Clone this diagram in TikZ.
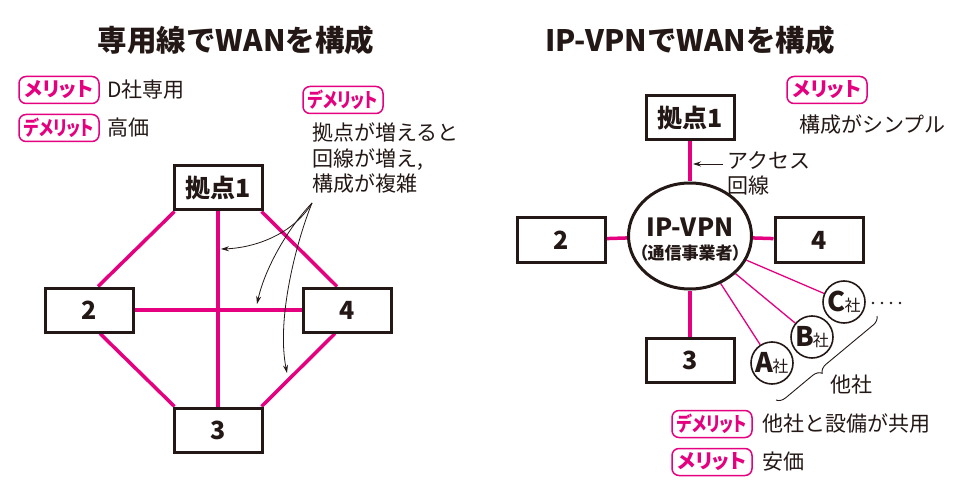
\documentclass[tikz,border=0pt]{standalone}
\usepackage{fontspec}
\setmainfont{Noto Sans CJK JP}
\newfontfamily\jpprop{Noto Sans CJK JP}[RawFeature=+palt]
\usetikzlibrary{shapes.geometric,arrows.meta,backgrounds,calc,decorations.pathreplacing}
\definecolor{mag}{HTML}{E4007F}
\definecolor{ink}{HTML}{231815}
\tikzset{
  box/.style={draw=ink, line width=3pt, fill=white, minimum width=88pt, minimum height=44pt, inner sep=0pt, text=ink, font=\fontsize{25}{27}\selectfont\bfseries},
  badge/.style={draw=mag, line width=1.5pt, rounded corners=7pt, text=mag, fill=white, minimum width=80pt, minimum height=27pt, inner sep=0pt, font=\jpprop\fontsize{20}{22}\selectfont\bfseries},
  body/.style={text=ink, inner sep=0pt, font=\fontsize{21}{25.5}\selectfont},
  title/.style={text=ink, inner sep=0pt, font=\fontsize{29.5}{31}\selectfont\bfseries},
  link/.style={draw=mag, line width=3.5pt},
  thinlink/.style={draw=mag, line width=1.3pt},
  pointer/.style={draw=ink, line width=0.8pt, -{Stealth[length=8pt,width=5pt]}},
  other/.style={circle, draw=ink, line width=1.6pt, fill=white, minimum size=42pt, inner sep=0pt, text=ink},
}
\newcommand{\oth}[1]{{\fontsize{27}{27}\selectfont\bfseries #1}\kern-1pt{\fontsize{16}{16}\selectfont 社}}
\newcommand{\demerit}{\scalebox{0.8}[1]{デメリット}}
\begin{document}
\begin{tikzpicture}[x=1pt,y=-1pt]
\useasboundingbox (0,0) rectangle (953,481);
% titles
\node[title] (t1) at (236,40) {専用線でWANを構成};
\node[title] (t2) at (690,40) {IP-VPNでWANを構成};

% ---------- left ----------
\node[badge] (m1) at (59,90) {メリット};
\node[body, anchor=west] (m1t) at (107,90) {D社専用};
\node[badge] (d1) at (59,128) {\demerit};
\node[body, anchor=west] (d1t) at (107,128) {高価};
\node[badge] (d2) at (343,100) {\demerit};
\node[body, anchor=north west, align=left] (d2t) at (312,123) {拠点が増えると\\回線が増え,\\構成が複雑};

\node[box] (L1) at (218,188) {拠点1};
\node[box] (L2) at (89,310) {2};
\node[box] (L4) at (347,310) {4};
\node[box] (L3) at (218,430) {3};

\begin{scope}[on background layer]
  \draw[link] (L1) -- (L3);
  \draw[link] (L2) -- (L4);
  \draw[link] ([xshift=2pt]L1.south west) -- ([xshift=9pt]L2.north);
  \draw[link] ([xshift=-2pt]L1.south east) -- ([xshift=-10pt]L4.north);
  \draw[link] ([xshift=11pt]L2.south) -- ([xshift=2pt]L3.north west);
  \draw[link] ([xshift=-12pt]L4.south) -- ([xshift=-2pt]L3.north east);
\end{scope}

\coordinate (src) at (312,203);
\coordinate (a1) at (221,249);
\coordinate (a2) at (257,304);
\coordinate (a3) at (287,373);
\draw[pointer] (src) .. controls (292,236) and (252,248) .. (a1);
\draw[pointer] (src) .. controls (288,228) and (265,268) .. (a2);
\draw[pointer] (src) .. controls (297,240) and (276,318) .. (a3);

% ---------- right ----------
\node[badge] (m2) at (827,90) {メリット};
\node[body, anchor=west] (m2t) at (799,125) {構成がシンプル};

\node[box] (R1) at (690,118) {拠点1};
\node[ellipse, draw=ink, line width=3pt, fill=white, minimum width=123pt, minimum height=106pt, inner sep=0pt] (vpn) at (690,236) {};
\node[text=ink, inner sep=0pt, font=\fontsize{25}{27}\selectfont\bfseries] (vpn1) at (690,227) {IP-VPN};
\node[text=ink, inner sep=0pt, font=\jpprop\fontsize{17}{19}\selectfont\bfseries] (vpn2) at (690,253) {（通信事業者）};
\node[box] (R2) at (561,240) {2};
\node[box] (R4) at (819,240) {4};
\node[box] (R3) at (690,360) {3};

\node[other] (oA) at (772,363) {\oth{A}};
\node[other] (oB) at (812,337) {\oth{B}};
\node[other] (oC) at (844,302) {\oth{C}};

\begin{scope}[on background layer]
  \draw[link] (R1) -- (vpn);
  \draw[link] (R2) -- (vpn);
  \draw[link] (vpn) -- (R4);
  \draw[link] (vpn) -- (R3);
  \draw[thinlink] (vpn) -- (oA);
  \draw[thinlink] (vpn) -- (oB);
  \draw[thinlink] (vpn) -- (oC);
\end{scope}

\node[body, anchor=north west, align=left] (acc) at (727,151) {アクセス\\回線};
\coordinate (accsrc) at (723,164);
\draw[pointer] (accsrc) -- ($(accsrc -| R1)+(3,0)$);

\foreach \i in {0,1,2,3} \fill[ink] (873+9*\i,303) circle (1.3pt);

\coordinate (brA) at (877,316);
\coordinate (brB) at (776,400);
\draw[ink, line width=0.9pt, decorate, decoration={brace, amplitude=9pt, aspect=0.6}] (brA) -- (brB);
\node[body] (others) at (851,385) {他社};

\node[badge] (d3) at (712,424) {\demerit};
\node[body, anchor=west] (d3t) at (762,424) {他社と設備が共用};
\node[badge] (m3) at (712,462) {メリット};
\node[body, anchor=west] (m3t) at (762,462) {安価};
\end{tikzpicture}
\end{document}
